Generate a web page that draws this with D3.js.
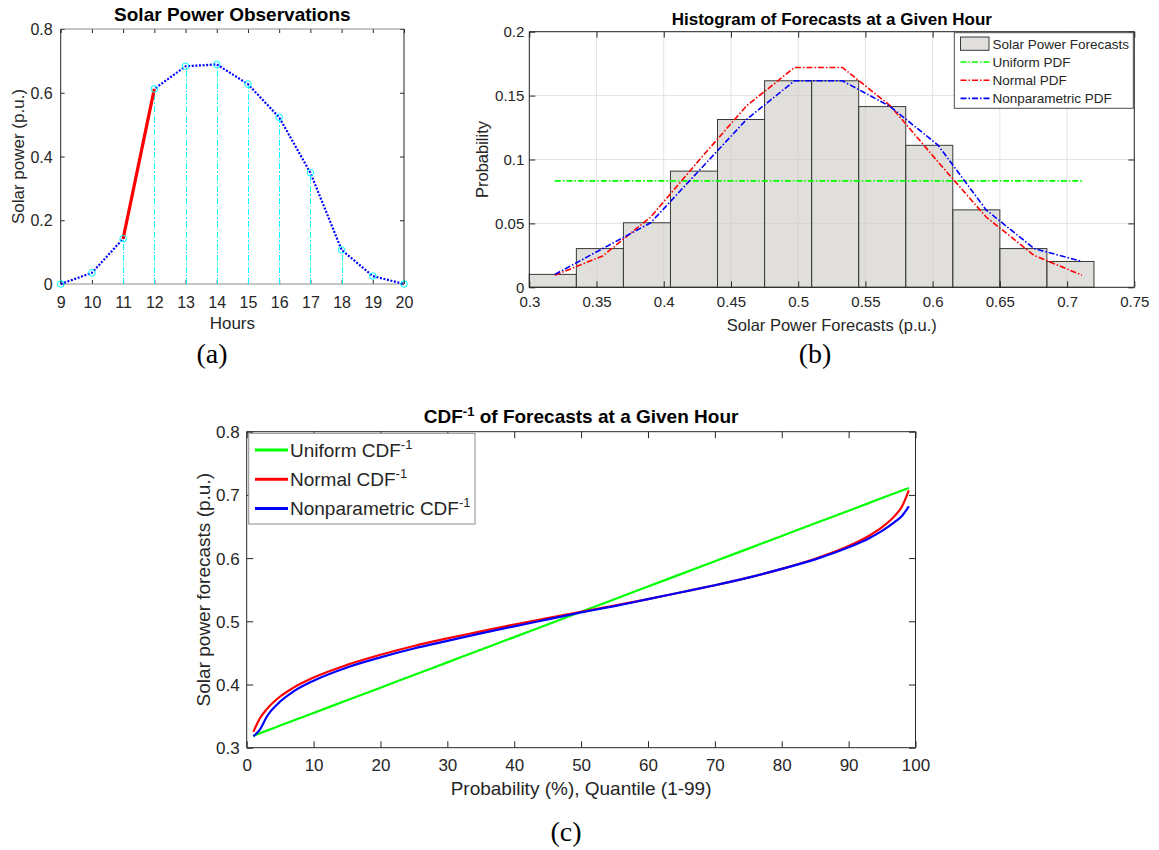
<!DOCTYPE html>
<html>
<head>
<meta charset="utf-8">
<script src="https://cdn.jsdelivr.net/npm/d3@7"></script>
<style>
  body { margin: 0; background: #fff; }
  svg { display: block; }
</style>
</head>
<body>
<script>
// ---- panel (a): observations
const hours = [9, 10, 11, 12, 13, 14, 15, 16, 17, 18, 19, 20];
const power = [0, 0.035, 0.142, 0.612, 0.683, 0.689, 0.627, 0.523, 0.349, 0.107, 0.025, 0];
const stemHours = [11, 12, 13, 14, 15, 16, 17, 18];
const rampHours = [11, 12];

// ---- panel (b): histogram + pdfs
const binEdges = [0.3, 0.335, 0.37, 0.405, 0.44, 0.475, 0.51, 0.545, 0.58, 0.615, 0.65, 0.685, 0.72];
const binProb = [0.0101, 0.0303, 0.0505, 0.0909, 0.1313, 0.1616, 0.1616, 0.1414, 0.1111, 0.0606, 0.0303, 0.0202];
const pdfX = [0.319, 0.3546, 0.3903, 0.4259, 0.4616, 0.4972, 0.5329, 0.5685, 0.6041, 0.6398, 0.6754, 0.711];
const uniformPdf = [0.0833, 0.0833, 0.0833, 0.0833, 0.0833, 0.0833, 0.0833, 0.0833, 0.0833, 0.0833, 0.0833, 0.0833];
const normalPdf = [0.0095, 0.0245, 0.055, 0.099, 0.142, 0.172, 0.172, 0.142, 0.098, 0.055, 0.025, 0.0095];
const nonparPdf = [0.0101, 0.0303, 0.0505, 0.0909, 0.1313, 0.1616, 0.1616, 0.1414, 0.1111, 0.0606, 0.0303, 0.0202];

// ---- panel (c): inverse cdfs
const quantP = [1, 2, 3, 5, 7, 10, 15, 20, 25, 30, 35, 40, 45, 50, 55, 60, 65, 70, 75, 80, 85, 90, 93, 95, 97, 98, 99];
const uniformQ = [0.319, 0.323, 0.327, 0.335, 0.343, 0.355, 0.375, 0.395, 0.415, 0.435, 0.455, 0.475, 0.495, 0.515,
  0.535, 0.555, 0.575, 0.595, 0.615, 0.635, 0.655, 0.675, 0.687, 0.695, 0.703, 0.707, 0.711];
const normalQ = [0.325, 0.347, 0.361, 0.381, 0.395, 0.411, 0.431, 0.447, 0.461, 0.473, 0.484, 0.495, 0.505, 0.515,
  0.525, 0.535, 0.546, 0.557, 0.569, 0.583, 0.599, 0.619, 0.635, 0.649, 0.668, 0.682, 0.707];
const nonparQ = [0.318, 0.329, 0.349, 0.373, 0.389, 0.406, 0.427, 0.443, 0.457, 0.469, 0.481, 0.492, 0.503, 0.514,
  0.524, 0.535, 0.546, 0.557, 0.569, 0.583, 0.598, 0.617, 0.631, 0.643, 0.658, 0.667, 0.682];

const FONT = '"Liberation Sans", Arial, Helvetica, sans-serif';
const INK = "#262626";

const svg = d3.select("body").append("svg")
  .attr("width", 1159)
  .attr("height", 850)
  .style("font-family", FONT);

// draws ticks (inward, all four sides), labels and box for a panel
function drawAxes(g, x, y, o) {
  const [x0, x1] = x.range(), [y0, y1] = y.range();
  const fmt = d3.format("~g");

  g.append("g").attr("transform", `translate(0,${y0})`)
    .call(d3.axisBottom(x).tickValues(o.xTicks).tickSize(-o.tick).tickSizeOuter(0).tickFormat(fmt))
    .call(a => a.select(".domain").remove())
    .call(a => a.selectAll("line").attr("stroke", INK))
    .call(a => a.selectAll("text").attr("y", o.xLabOff).attr("dy", null)
      .attr("fill", INK).style("font-size", o.tickFont + "px").style("font-family", FONT));
  g.append("g").attr("transform", `translate(0,${y1})`)
    .call(d3.axisTop(x).tickValues(o.xTicks).tickSize(-o.tick).tickSizeOuter(0).tickFormat(""))
    .call(a => a.select(".domain").remove())
    .call(a => a.selectAll("line").attr("stroke", INK));
  g.append("g").attr("transform", `translate(${x0},0)`)
    .call(d3.axisLeft(y).tickValues(o.yTicks).tickSize(-o.tick).tickSizeOuter(0).tickFormat(fmt))
    .call(a => a.select(".domain").remove())
    .call(a => a.selectAll("line").attr("stroke", INK))
    .call(a => a.selectAll("text").attr("x", -o.yLabOff).attr("dy", "0.35em")
      .attr("fill", INK).style("font-size", o.tickFont + "px").style("font-family", FONT));
  g.append("g").attr("transform", `translate(${x1},0)`)
    .call(d3.axisRight(y).tickValues(o.yTicks).tickSize(-o.tick).tickSizeOuter(0).tickFormat(""))
    .call(a => a.select(".domain").remove())
    .call(a => a.selectAll("line").attr("stroke", INK));

  // box
  g.append("line").attr("x1", x0).attr("x2", x1).attr("y1", y1).attr("y2", y1).attr("stroke", o.hColor || INK);
  g.append("line").attr("x1", x0).attr("x2", x1).attr("y1", y0).attr("y2", y0).attr("stroke", o.hColor || INK);
  g.append("line").attr("x1", x0).attr("x2", x0).attr("y1", y0).attr("y2", y1).attr("stroke", INK);
  g.append("line").attr("x1", x1).attr("x2", x1).attr("y1", y0).attr("y2", y1).attr("stroke", INK);

  // title + labels
  g.append("text").attr("x", (x0 + x1) / 2).attr("y", o.titleY)
    .attr("text-anchor", "middle").attr("fill", "#000").style("font-weight", "bold")
    .style("font-size", o.titleFont + "px").text(o.title);
  g.append("text").attr("x", (x0 + x1) / 2).attr("y", o.xTitleY)
    .attr("text-anchor", "middle").attr("fill", INK).style("font-size", o.labFont + "px").text(o.xTitle);
  g.append("text").attr("transform", `translate(${o.yTitleX},${(y0 + y1) / 2}) rotate(-90)`)
    .attr("text-anchor", "middle").attr("dy", "0.35em").attr("fill", INK)
    .style("font-size", o.labFont + "px").text(o.yTitle);
}

function caption(txt, cx, by) {
  svg.append("text").attr("x", cx).attr("y", by).attr("text-anchor", "middle")
    .style("font-family", '"Liberation Serif", "Times New Roman", serif')
    .style("font-size", "28px").attr("fill", "#000").text(txt);
}

// ================= (a)
{
  const g = svg.append("g");
  const x = d3.scaleLinear().domain([9, 20]).range([60.7, 404]);
  const y = d3.scaleLinear().domain([0, 0.8]).range([284, 29]);

  drawAxes(g, x, y, {
    xTicks: hours, yTicks: [0, 0.2, 0.4, 0.6, 0.8], tick: 4, tickFont: 16,
    xLabOff: 24, yLabOff: 8, hColor: "#8a8a8a",
    title: "Solar Power Observations", titleY: 21, titleFont: 19,
    xTitle: "Hours", xTitleY: 329, yTitle: "Solar power (p.u.)", yTitleX: 18, labFont: 17
  });

  // stems
  g.selectAll(".stem").data(stemHours).join("line").attr("class", "stem")
    .attr("x1", d => Math.round(x(d)) + 0.5).attr("x2", d => Math.round(x(d)) + 0.5)
    .attr("y1", y(0)).attr("y2", d => y(power[hours.indexOf(d)]))
    .attr("stroke", "#00ffff").attr("stroke-width", 1.1).attr("stroke-dasharray", "6,2,1.5,2")
    .attr("shape-rendering", "crispEdges");

  const pts = hours.map((h, i) => [h, power[i]]);
  g.append("path").datum(pts)
    .attr("d", d3.line().x(d => x(d[0])).y(d => y(d[1])))
    .attr("fill", "none").attr("stroke", "#0000ff").attr("stroke-width", 2.2).attr("stroke-dasharray", "2,1.6");

  const ramp = rampHours.map(h => [h, power[hours.indexOf(h)]]);
  g.append("path").datum(ramp)
    .attr("d", d3.line().x(d => x(d[0])).y(d => y(d[1])))
    .attr("fill", "none").attr("stroke", "#ff0000").attr("stroke-width", 3.2);

  g.selectAll(".mk").data(pts).join("circle").attr("class", "mk")
    .attr("cx", d => x(d[0])).attr("cy", d => y(d[1])).attr("r", 3.3)
    .attr("fill", "none").attr("stroke", "#00ffff").attr("stroke-width", 1);
}
caption("(a)", 212, 363);

// ================= (b)
{
  const g = svg.append("g");
  const x = d3.scaleLinear().domain([0.3, 0.75]).range([529.3, 1134.3]);
  const y = d3.scaleLinear().domain([0, 0.2]).range([287.3, 31.7]);
  const xTicks = [0.3, 0.35, 0.4, 0.45, 0.5, 0.55, 0.6, 0.65, 0.7, 0.75];
  const yTicks = [0, 0.05, 0.1, 0.15, 0.2];

  // grid
  g.selectAll(".gx").data(xTicks).join("line")
    .attr("x1", d => x(d)).attr("x2", d => x(d)).attr("y1", y(0)).attr("y2", y(0.2))
    .attr("stroke", "#e3e3e3");
  g.selectAll(".gy").data(yTicks).join("line")
    .attr("y1", d => y(d)).attr("y2", d => y(d)).attr("x1", x(0.3)).attr("x2", x(0.75))
    .attr("stroke", "#e3e3e3");

  const bins = binProb.map((p, i) => ({ x0: binEdges[i], x1: binEdges[i + 1], p }));
  g.selectAll(".bar").data(bins).join("rect").attr("class", "bar")
    .attr("x", d => x(d.x0)).attr("width", d => x(d.x1) - x(d.x0))
    .attr("y", d => y(d.p)).attr("height", d => y(0) - y(d.p))
    .attr("fill", "#cdc9c3").attr("fill-opacity", 0.6)
    .attr("stroke", "#3a3a3a").attr("stroke-width", 1);

  drawAxes(g, x, y, {
    xTicks, yTicks, tick: 6, tickFont: 15, xLabOff: 20, yLabOff: 5,
    title: "Histogram of Forecasts at a Given Hour", titleY: 25, titleFont: 17,
    xTitle: "Solar Power Forecasts (p.u.)", xTitleY: 331, yTitle: "Probability", yTitleX: 482, labFont: 16.5
  });

  const pdfLine = d3.line().x(d => x(d[0])).y(d => y(d[1]));
  const series = [
    { name: "Uniform PDF", vals: uniformPdf, color: "#00ff00" },
    { name: "Normal PDF", vals: normalPdf, color: "#ff0000" },
    { name: "Nonparametric PDF", vals: nonparPdf, color: "#0000ff" }
  ];
  series.forEach(s => {
    g.append("path").datum(pdfX.map((v, i) => [v, s.vals[i]]))
      .attr("d", pdfLine).attr("fill", "none").attr("stroke", s.color)
      .attr("stroke-width", 1.6).attr("stroke-dasharray", "6,2,1.5,2");
  });

  // legend
  const lg = g.append("g");
  lg.append("rect").attr("x", 954.3).attr("y", 32.7).attr("width", 179).attr("height", 75.6)
    .attr("fill", "#fff").attr("stroke", "#4d4d4d").attr("stroke-width", 1);
  lg.append("rect").attr("x", 960.5).attr("y", 37).attr("width", 28.5).attr("height", 13.3)
    .attr("fill", "#cdc9c3").attr("fill-opacity", 0.6).attr("stroke", "#3a3a3a");
  lg.append("text").attr("x", 992.5).attr("y", 48.5).attr("fill", INK).style("font-size", "13.5px")
    .text("Solar Power Forecasts");
  series.forEach((s, i) => {
    const ly = 62 + i * 18.2;
    lg.append("line").attr("x1", 960.5).attr("x2", 990).attr("y1", ly).attr("y2", ly)
      .attr("stroke", s.color).attr("stroke-width", 1.6).attr("stroke-dasharray", "6,2,1.5,2");
    lg.append("text").attr("x", 992.5).attr("y", ly + 4.8).attr("fill", INK).style("font-size", "13.5px")
      .text(s.name);
  });
}
caption("(b)", 815, 363);

// ================= (c)
{
  const g = svg.append("g");
  const x = d3.scaleLinear().domain([0, 100]).range([246.7, 915.5]);
  const y = d3.scaleLinear().domain([0.3, 0.8]).range([747.7, 431.7]);

  drawAxes(g, x, y, {
    xTicks: d3.range(0, 101, 10), yTicks: [0.3, 0.4, 0.5, 0.6, 0.7, 0.8], tick: 6.5, tickFont: 17,
    xLabOff: 23, yLabOff: 7,
    title: "", titleY: 422, titleFont: 19,
    xTitle: "Probability (%), Quantile (1-99)", xTitleY: 795,
    yTitle: "Solar power forecasts (p.u.)", yTitleX: 203, labFont: 19
  });

  // title with superscript
  const t = g.append("text").attr("x", (246.7 + 915.5) / 2).attr("y", 422.5).attr("text-anchor", "middle")
    .attr("fill", "#000").style("font-weight", "bold").style("font-size", "19px");
  t.append("tspan").text("CDF");
  t.append("tspan").attr("dy", -7).style("font-size", "13px").text("-1");
  t.append("tspan").attr("dy", 7).text(" of Forecasts at a Given Hour");

  const qLine = d3.line().curve(d3.curveMonotoneX).x(d => x(d[0])).y(d => y(d[1]));
  const series = [
    { name: "Uniform CDF", vals: uniformQ, color: "#00ff00" },
    { name: "Normal CDF", vals: normalQ, color: "#ff0000" },
    { name: "Nonparametric CDF", vals: nonparQ, color: "#0000ff" }
  ];
  series.forEach(s => {
    g.append("path").datum(quantP.map((p, i) => [p, s.vals[i]]))
      .attr("d", qLine).attr("fill", "none").attr("stroke", s.color).attr("stroke-width", 2.2);
  });

  const lg = g.append("g");
  lg.append("rect").attr("x", 248.7).attr("y", 433.3).attr("width", 226.3).attr("height", 90.7)
    .attr("fill", "#fff").attr("stroke", "#8c8c8c").attr("stroke-width", 1);
  series.forEach((s, i) => {
    const ly = 450 + i * 29.2;
    lg.append("line").attr("x1", 255).attr("x2", 288).attr("y1", ly).attr("y2", ly)
      .attr("stroke", s.color).attr("stroke-width", 3);
    const tx = lg.append("text").attr("x", 290).attr("y", ly + 7).attr("fill", INK).style("font-size", "19px");
    tx.append("tspan").text(s.name);
    tx.append("tspan").attr("dy", -8).style("font-size", "13px").text("-1");
  });
}
caption("(c)", 566, 841);
</script>
</body>
</html>
